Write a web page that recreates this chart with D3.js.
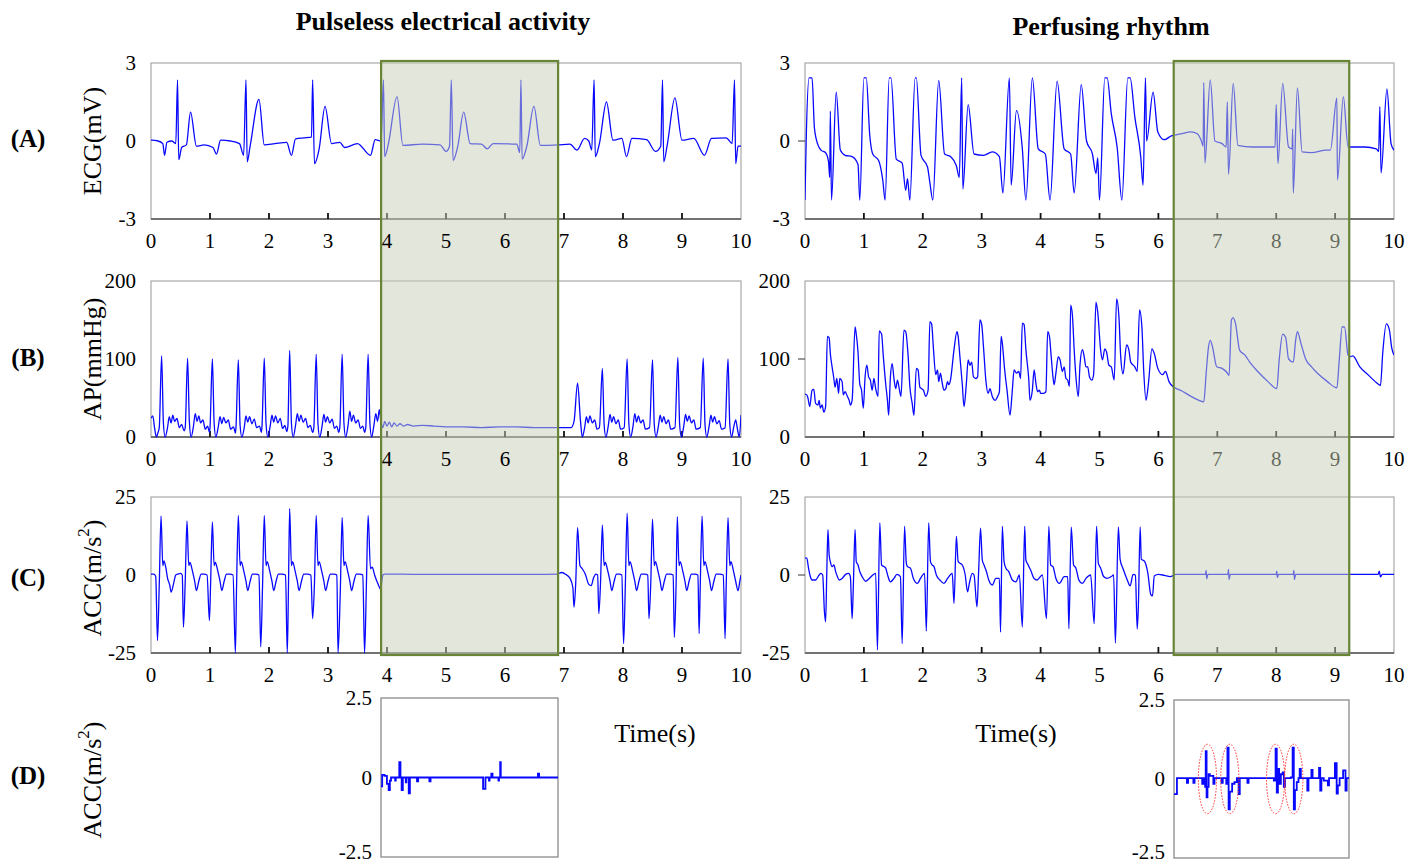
<!DOCTYPE html>
<html>
<head>
<meta charset="utf-8">
<script src="https://cdn.jsdelivr.net/npm/d3@7"></script>
<style>body{margin:0;background:#fff}</style>
</head>
<body>
<script>
// waveforms, [time (s), value]
var ecgPea = [[0.00,0.03],[0.12,0.0],[0.2,-0.1],[0.23,-0.55],[0.27,-0.05],[0.35,0.0],[0.42,-0.1],[0.45,2.35],[0.47,-0.72],[0.52,-0.25],[0.6,-0.15],[0.67,1.11],[0.77,-0.2],[0.9,-0.15],[1.05,-0.25],[1.11,-0.5],[1.18,0.03],[1.35,0.0],[1.5,-0.1],[1.57,-0.55],[1.61,2.35],[1.63,-0.8],[1.68,-0.2],[1.83,1.6],[1.92,-0.15],[2.1,-0.1],[2.3,-0.05],[2.38,-0.55],[2.45,0.08],[2.6,0.12],[2.72,0.15],[2.74,2.35],[2.77,-0.87],[2.85,-0.3],[2.95,1.33],[3.06,-0.1],[3.2,-0.05],[3.28,-0.25],[3.5,-0.1],[3.72,-0.55],[3.8,0.05],[3.9,0.0],[3.94,2.35],[3.96,-0.6],[4.02,-0.15],[4.17,1.71],[4.27,-0.17],[4.6,-0.12],[4.9,-0.15],[5.0,-0.4],[5.06,-0.2],[5.09,2.35],[5.12,-0.75],[5.2,-0.2],[5.3,1.11],[5.41,-0.1],[5.6,-0.12],[5.7,-0.3],[5.8,-0.1],[6.2,-0.12],[6.25,-0.45],[6.27,2.35],[6.29,-0.7],[6.37,-0.2],[6.49,1.33],[6.6,-0.17],[6.9,-0.15],[7.1,-0.12],[7.22,-0.35],[7.35,0.1],[7.42,0.0],[7.47,-0.35],[7.51,2.35],[7.53,-0.6],[7.6,-0.1],[7.72,1.5],[7.83,0.03],[7.98,0.1],[8.06,-0.6],[8.15,0.1],[8.4,0.05],[8.55,-0.4],[8.64,-0.2],[8.67,2.35],[8.69,-0.8],[8.75,-0.15],[8.88,1.66],[9.0,0.03],[9.2,0.1],[9.38,-0.55],[9.5,0.1],[9.75,0.12],[9.85,-0.1],[9.89,2.35],[9.91,-0.87],[9.95,-0.2],[10.0,-0.2]];

var ecgPr = [[0.00,-2.27],[0.02,0.0],[0.07,2.43],[0.12,2.43],[0.16,0.5],[0.22,-0.15],[0.27,-0.35],[0.35,-0.45],[0.40,-0.8],[0.42,-1.4],[0.43,1.15],[0.45,-2.27],[0.53,1.88],[0.6,-0.35],[0.68,-0.55],[0.8,-0.6],[0.9,-0.9],[0.93,-2.27],[1.0,2.43],[1.04,2.43],[1.1,0.2],[1.15,-0.5],[1.25,-0.75],[1.32,-1.5],[1.36,-2.27],[1.43,2.43],[1.46,2.43],[1.55,-0.7],[1.65,-0.85],[1.71,-1.9],[1.74,-1.45],[1.78,-2.27],[1.87,2.43],[1.89,2.43],[1.97,-0.55],[2.08,-1.0],[2.12,-1.6],[2.17,-2.27],[2.27,2.33],[2.37,-0.5],[2.47,-0.6],[2.57,-0.95],[2.62,-1.4],[2.66,2.43],[2.68,-1.85],[2.77,1.4],[2.87,-0.5],[3.03,-0.55],[3.18,-0.42],[3.30,-0.6],[3.36,-2.0],[3.47,2.43],[3.5,-1.7],[3.59,1.17],[3.69,-0.3],[3.75,-2.27],[3.86,2.43],[3.96,-0.3],[4.08,-0.5],[4.16,-2.27],[4.28,2.3],[4.4,-0.3],[4.51,-0.5],[4.57,-2.0],[4.69,2.17],[4.78,0.0],[4.88,-0.5],[4.94,-1.25],[4.97,-0.65],[5.0,-2.27],[5.09,2.43],[5.13,2.43],[5.2,1.05],[5.3,-0.25],[5.38,-2.27],[5.48,2.43],[5.52,2.43],[5.6,0.92],[5.7,-0.6],[5.74,-1.7],[5.78,2.43],[5.8,0.0],[5.91,1.88],[5.99,0.35],[6.1,0.05],[6.22,0.2],[6.4,0.28],[6.55,0.35],[6.66,0.28],[6.73,0.0],[6.76,-0.2],[6.77,2.25],[6.79,-0.85],[6.88,2.35],[6.96,0.0],[7.08,-0.1],[7.15,-0.23],[7.17,1.5],[7.19,-1.28],[7.27,2.22],[7.35,-0.17],[7.6,-0.23],[7.98,-0.23],[8.0,1.4],[8.03,-0.87],[8.11,2.22],[8.21,-0.23],[8.27,-0.3],[8.28,0.47],[8.29,-2.0],[8.36,2.04],[8.44,-0.42],[8.6,-0.45],[8.85,-0.35],[8.92,-0.35],[9.03,1.66],[9.04,-1.5],[9.14,1.71],[9.22,-0.23],[9.5,-0.23],[9.7,-0.3],[9.74,-0.4],[9.76,1.32],[9.78,-1.23],[9.88,2.0],[9.95,-0.1],[10.0,-0.35]];

var apPea = [[0.00,24],[0.03,27],[0.06,12],[0.09,0],[0.12,6],[0.14,12],[0.18,104],[0.21,18],[0.24,0],[0.28,12],[0.31,26],[0.34,18],[0.37,28],[0.40,20],[0.44,24],[0.48,12],[0.52,16],[0.56,8],
[0.58,12],[0.62,101],[0.65,20],[0.68,0],[0.72,14],[0.75,30],[0.78,20],[0.81,27],[0.84,18],[0.88,22],[0.92,10],[0.96,14],[0.99,6],
[1.00,12],[1.04,100],[1.07,18],[1.10,0],[1.14,13],[1.17,26],[1.20,17],[1.23,25],[1.27,18],[1.31,22],[1.35,10],[1.40,13],[1.43,5],
[1.44,12],[1.48,99],[1.51,15],[1.54,0],[1.58,12],[1.61,27],[1.64,19],[1.67,26],[1.71,17],[1.75,23],[1.79,12],[1.84,14],[1.87,6],
[1.88,12],[1.92,101],[1.95,17],[1.98,0],[2.02,14],[2.05,28],[2.08,19],[2.11,27],[2.15,18],[2.19,24],[2.23,11],[2.27,15],[2.30,7],
[2.32,14],[2.35,111],[2.38,18],[2.41,0],[2.45,15],[2.48,30],[2.51,20],[2.54,28],[2.58,19],[2.62,24],[2.66,12],[2.70,15],[2.74,6],
[2.76,12],[2.80,106],[2.83,17],[2.86,0],[2.90,14],[2.93,29],[2.96,19],[2.99,26],[3.03,18],[3.07,23],[3.11,11],[3.15,14],[3.18,6],
[3.20,12],[3.24,106],[3.27,18],[3.30,0],[3.34,15],[3.37,33],[3.40,20],[3.43,28],[3.47,18],[3.51,22],[3.55,11],[3.59,14],[3.62,6],
[3.64,12],[3.68,106],[3.71,18],[3.74,0],[3.78,16],[3.81,30],[3.84,20],[3.87,35],[3.90,18],[3.93,12],[3.96,20],[4.00,14],[4.04,19],[4.08,13],[4.12,18],[4.17,14],[4.22,17],[4.28,14],[4.35,16],[4.45,14],[4.6,15],[4.8,14],[5.0,13],[5.3,13],[5.6,12],[5.9,13],[6.2,13],[6.5,12],[6.8,12],[7.0,12],[7.12,12],[7.17,20],[7.23,69],[7.28,20],[7.31,0],
[7.35,12],[7.38,26],[7.41,18],[7.44,27],[7.48,18],[7.52,22],[7.56,10],[7.60,12],[7.65,88],[7.68,16],[7.71,0],[7.75,14],[7.78,29],[7.81,19],[7.84,26],[7.88,17],[7.92,22],[7.96,10],
[8.02,12],[8.07,100],[8.10,16],[8.13,0],[8.17,14],[8.20,30],[8.23,19],[8.26,27],[8.30,18],[8.34,22],[8.38,10],
[8.45,12],[8.50,99],[8.53,16],[8.56,0],[8.60,14],[8.63,28],[8.66,19],[8.69,26],[8.73,17],[8.77,22],[8.81,10],
[8.88,12],[8.93,102],[8.96,16],[8.99,0],[9.03,14],[9.06,29],[9.09,20],[9.12,27],[9.16,18],[9.20,22],[9.24,10],
[9.31,12],[9.36,101],[9.39,16],[9.42,0],[9.46,14],[9.49,28],[9.52,19],[9.55,26],[9.59,17],[9.63,21],[9.67,10],
[9.73,12],[9.78,100],[9.81,16],[9.84,0],[9.88,14],[9.91,22],[9.94,10],[9.97,0],[10.0,28]];

var apPr = [[0.0,55],[0.03,54],[0.05,50],[0.08,39],[0.12,60],[0.15,61],[0.18,43],[0.22,41],[0.24,47],[0.26,37],[0.29,41],[0.32,32],[0.35,39],[0.38,129],[0.41,127],[0.43,107],[0.46,90],[0.49,75],[0.51,64],[0.54,75],[0.57,56],[0.59,75],[0.63,71],[0.65,54],[0.68,58],[0.72,52],[0.75,47],[0.77,41],[0.80,47],[0.85,141],[0.87,132],[0.90,109],[0.93,68],[0.96,60],[0.99,37],[1.02,77],[1.05,92],[1.08,77],[1.11,73],[1.14,60],[1.17,75],[1.20,62],[1.24,52],[1.26,136],[1.30,132],[1.33,103],[1.37,68],[1.40,47],[1.42,28],[1.45,77],[1.48,94],[1.51,75],[1.54,62],[1.57,73],[1.60,62],[1.63,52],[1.68,137],[1.71,135],[1.75,105],[1.78,65],[1.82,43],[1.85,28],[1.89,88],[1.92,86],[1.95,64],[1.98,62],[2.01,60],[2.05,52],[2.09,60],[2.12,148],[2.15,145],[2.18,114],[2.22,80],[2.25,86],[2.27,71],[2.30,82],[2.33,69],[2.36,60],[2.39,62],[2.42,71],[2.44,67],[2.47,73],[2.53,112],[2.58,135],[2.60,129],[2.63,103],[2.67,68],[2.70,39],[2.74,69],[2.77,99],[2.80,92],[2.83,96],[2.86,77],[2.90,75],[2.93,77],[2.97,150],[3.00,144],[3.03,116],[3.07,73],[3.11,56],[3.14,62],[3.18,52],[3.23,47],[3.27,52],[3.30,58],[3.33,129],[3.35,120],[3.39,86],[3.43,60],[3.48,28],[3.52,60],[3.55,86],[3.59,82],[3.63,84],[3.66,75],[3.69,146],[3.72,144],[3.75,112],[3.80,73],[3.82,47],[3.86,60],[3.89,86],[3.92,69],[3.95,58],[3.98,60],[4.00,56],[4.05,56],[4.09,58],[4.12,135],[4.15,129],[4.18,103],[4.21,77],[4.23,67],[4.26,82],[4.30,103],[4.33,99],[4.37,84],[4.40,90],[4.43,75],[4.46,73],[4.49,65],[4.51,169],[4.54,156],[4.57,112],[4.60,77],[4.64,52],[4.67,94],[4.71,112],[4.74,103],[4.77,90],[4.80,90],[4.83,77],[4.87,73],[4.90,80],[4.94,173],[4.97,160],[5.02,111],[5.05,99],[5.09,113],[5.12,109],[5.16,92],[5.20,90],[5.25,73],[5.29,177],[5.33,154],[5.36,103],[5.40,81],[5.46,118],[5.50,111],[5.53,96],[5.60,90],[5.64,84],[5.68,163],[5.72,141],[5.75,86],[5.79,47],[5.83,68],[5.89,113],[5.93,107],[5.99,88],[6.07,80],[6.12,84],[6.18,71],[6.26,64],[6.40,59],[6.53,53],[6.69,47],[6.77,45],[6.81,81],[6.85,115],[6.88,124],[6.92,115],[6.99,90],[7.08,88],[7.16,83],[7.20,79],[7.24,150],[7.27,153],[7.31,145],[7.38,111],[7.47,105],[7.55,96],[7.70,83],[7.86,71],[8.01,62],[8.05,98],[8.11,132],[8.16,128],[8.21,100],[8.29,96],[8.33,124],[8.36,135],[8.42,120],[8.50,100],[8.60,90],[8.71,81],[8.87,71],[9.03,63],[9.07,98],[9.12,141],[9.16,141],[9.22,105],[9.26,103],[9.30,104],[9.42,90],[9.57,79],[9.73,68],[9.77,66],[9.81,109],[9.87,145],[9.92,138],[9.96,115],[10.0,105]];

var accPea = [[0.0,0.3],[0.05,0.3],[0.08,-0.5],[0.11,-21],[0.14,-3],[0.17,18.9],[0.20,3],[0.22,4.5],[0.25,2.5],[0.28,-1],[0.32,-3.4],[0.34,-5.5],[0.38,-3],[0.42,0],[0.46,0.3],[0.50,0.5],[0.53,0],
[0.55,-16.7],[0.58,-2],[0.61,17.3],[0.64,3],[0.66,4],[0.70,1.5],[0.74,-2],[0.77,-5],[0.81,-2],[0.85,0.3],[0.90,0.3],[0.95,0],
[0.99,-14.6],[1.01,-3],[1.04,17],[1.07,3],[1.09,4],[1.13,1.5],[1.17,-2],[1.20,-5],[1.24,-2],[1.28,0.3],[1.34,0.3],[1.39,0],
[1.43,-25],[1.45,-4],[1.48,19.1],[1.51,3],[1.53,4.3],[1.57,1.5],[1.61,-2],[1.64,-5],[1.68,-2],[1.72,0.3],[1.78,0.3],[1.83,0],
[1.86,-23],[1.89,-4],[1.92,19.1],[1.95,3],[1.97,4.3],[2.01,1.5],[2.05,-2],[2.08,-5],[2.12,-2],[2.16,0.3],[2.22,0.3],[2.28,0],
[2.31,-25],[2.33,-4],[2.35,21.3],[2.38,3],[2.40,4.3],[2.44,1.5],[2.48,-2],[2.51,-5],[2.55,-2],[2.59,0.3],[2.65,0.3],[2.71,0],
[2.74,-14],[2.77,-3],[2.80,19.1],[2.83,3],[2.85,4.3],[2.89,1.5],[2.93,-2],[2.96,-5],[3.00,-2],[3.04,0.3],[3.10,0.3],[3.15,0],
[3.17,-25],[3.21,-4],[3.24,18.4],[3.27,3],[3.29,4.3],[3.33,1.5],[3.37,-2],[3.40,-5],[3.44,-2],[3.48,0.3],[3.54,0.3],[3.59,0],
[3.62,-25],[3.65,-4],[3.68,19.1],[3.72,2],[3.75,2.5],[3.79,0],[3.85,-3],[3.89,-4.5],[3.93,0],[3.96,0.3],[4.5,0.2],[5.0,0.2],[5.5,0.2],[6.0,0.2],[6.5,0.2],[6.88,0.3],[6.96,0.8],[7.02,0.3],[7.10,-1],[7.15,-4],[7.17,-10.3],[7.20,-2],[7.23,15.2],[7.27,3],[7.31,2],[7.36,0.3],[7.42,-3],[7.46,-3.4],[7.50,-1],[7.54,0.3],[7.57,0],
[7.59,-12.4],[7.62,-2],[7.65,16],[7.68,3],[7.70,4],[7.74,1.5],[7.78,-2],[7.81,-5],[7.85,-2],[7.89,0.3],[7.94,0.3],[7.98,0],
[8.01,-22],[8.04,-3],[8.07,19.8],[8.10,3],[8.12,4.3],[8.16,1.5],[8.20,-2],[8.23,-5],[8.27,-2],[8.31,0.3],[8.37,0.3],[8.42,0],
[8.44,-14],[8.47,-3],[8.50,17.9],[8.53,3],[8.55,4.3],[8.59,1.5],[8.63,-2],[8.66,-5],[8.70,-2],[8.74,0.3],[8.80,0.3],[8.85,0],
[8.87,-20],[8.90,-3],[8.92,18.7],[8.95,3],[8.97,4.3],[9.01,1.5],[9.05,-2],[9.08,-5],[9.12,-2],[9.16,0.3],[9.22,0.3],[9.27,0],
[9.29,-18.8],[9.31,-3],[9.34,18.9],[9.37,3],[9.39,4.3],[9.43,1.5],[9.47,-2],[9.50,-5],[9.54,-2],[9.58,0.3],[9.64,0.3],[9.70,0],
[9.73,-20.4],[9.75,-3],[9.78,18.4],[9.81,3],[9.83,4.3],[9.87,1.5],[9.91,-2],[9.95,-5],[9.98,-2],[10.0,0]];

var accPr = [[0.0,5.5],[0.03,5.4],[0.06,2.2],[0.09,-0.5],[0.12,-1.6],[0.18,-1.6],[0.24,0],[0.27,0.5],[0.30,0],[0.33,-11.8],[0.35,-15],[0.37,0.9],[0.39,14.5],[0.41,6.5],[0.43,4.3],[0.46,2.7],[0.49,3.2],[0.52,1.1],[0.55,-0.5],[0.58,-1.6],[0.63,-1.1],[0.69,0.2],[0.74,0.5],[0.77,-0.5],[0.80,-14],[0.82,-4],[0.85,14.5],[0.87,4.3],[0.90,3.2],[0.93,1.1],[0.97,-0.5],[1.03,-2],[1.09,-1.1],[1.14,-0.2],[1.20,0.5],[1.23,-24],[1.27,16.7],[1.30,3.2],[1.34,2.7],[1.37,2.2],[1.41,-0.5],[1.45,-2.2],[1.51,-1.1],[1.56,0.2],[1.62,-0.5],[1.65,-22],[1.69,15.6],[1.72,3.8],[1.74,2.7],[1.79,2.2],[1.84,-1.1],[1.91,-2.7],[1.96,-1.1],[2.03,0.5],[2.06,-18],[2.10,16.7],[2.13,4.3],[2.16,3.2],[2.19,2.7],[2.23,0],[2.29,-1.6],[2.36,-2.7],[2.42,-1.1],[2.50,0.5],[2.53,-9.1],[2.57,12.4],[2.60,4.3],[2.63,3.8],[2.67,3.2],[2.72,0],[2.76,-5.4],[2.79,-2.7],[2.84,0.5],[2.87,0],[2.92,-10.2],[2.95,2.2],[2.98,15],[3.01,4.8],[3.04,3.2],[3.08,1.1],[3.12,-1.6],[3.18,-3.2],[3.24,-1.1],[3.30,-1.1],[3.32,-18.3],[3.35,15.6],[3.38,4.3],[3.41,2.2],[3.46,1.1],[3.52,-1.6],[3.58,-2.2],[3.64,0],[3.69,-16.7],[3.73,15.6],[3.75,4.8],[3.79,3.2],[3.83,1.6],[3.89,-1.1],[3.94,-1.6],[4.03,0],[4.10,-14],[4.14,15.6],[4.17,3.2],[4.21,2.7],[4.26,-1.1],[4.32,-2.7],[4.40,-0.5],[4.46,-0.5],[4.48,-17.2],[4.52,15.3],[4.56,3.2],[4.60,2.2],[4.65,-1.6],[4.71,-2.7],[4.77,-1.1],[4.85,0],[4.91,-15.6],[4.95,15.6],[4.98,3.8],[5.02,2.2],[5.07,-0.5],[5.13,-1.1],[5.2,-0.5],[5.24,0],[5.27,-21.8],[5.32,15.4],[5.35,5],[5.40,2],[5.47,-1.5],[5.52,-3.5],[5.57,0.2],[5.61,0],[5.64,-17.3],[5.66,-10],[5.69,15.4],[5.71,5],[5.76,4.5],[5.82,0.7],[5.87,-6.2],[5.90,-6.7],[5.93,-0.3],[6.0,0.2],[6.1,-0.1],[6.2,-0.5],[6.3,0.2],[6.5,0.2],[6.8,0.2],[6.81,1.5],[6.82,-1.2],[6.84,0.2],[7.18,0.2],[7.19,1.8],[7.2,-1.5],[7.22,0.2],[8.0,0.2],[8.01,1.2],[8.02,-0.8],[8.04,0.2],[8.29,0.2],[8.30,1.5],[8.31,-1.5],[8.33,0.2],[9.0,0.2],[9.73,0.2],[9.75,1.2],[9.77,-0.6],[9.80,0.2],[10.0,0.2]];

// zoomed accelerometer traces inside the shaded windows (sampled, step-wise)
var dPea = [[3.9,-0.28],[3.92,0.08],[3.96,0.05],[4.0,-0.2],[4.03,-0.4],[4.05,-0.1],[4.07,0],[4.14,-0.1],[4.15,0],[4.21,0.48],[4.23,0],[4.25,-0.4],[4.27,0],[4.32,-0.15],[4.33,0],[4.37,-0.5],[4.39,0],[4.51,-0.12],[4.53,0],[4.72,-0.12],[4.74,0],[5.63,-0.36],[5.67,0],[5.73,-0.1],[5.74,0],[5.77,0.12],[5.79,0],[5.89,-0.1],[5.9,0],[5.92,0.48],[5.93,0],[6.56,0.12],[6.58,0],[6.9,0]];
var dPr = [[6.26,-0.48],[6.31,0.03],[6.48,-0.12],[6.5,0.03],[6.59,-0.12],[6.61,0.03],[6.74,-0.15],[6.76,0.03],[6.79,-0.25],[6.8,0.88],[6.815,-0.58],[6.83,-0.25],[6.85,0.15],[6.87,0.1],[6.9,0.1],[6.93,-0.15],[6.95,0.03],[7.07,-0.12],[7.09,0.03],[7.15,-0.15],[7.17,0.99],[7.19,-0.96],[7.21,-0.4],[7.25,-0.15],[7.29,-0.1],[7.33,0.03],[7.36,-0.48],[7.38,0.03],[7.51,-0.12],[7.53,0.03],[7.96,-0.05],[7.99,0.96],[8.01,-0.43],[8.03,0.32],[8.05,-0.15],[8.08,0.15],[8.11,0.21],[8.13,-0.25],[8.15,0.03],[8.25,0.05],[8.28,0.99],[8.30,-0.96],[8.32,-0.35],[8.35,-0.1],[8.38,0.03],[8.40,0.32],[8.42,0.03],[8.53,-0.37],[8.55,0.03],[8.60,0.29],[8.62,0.03],[8.73,0.35],[8.75,-0.37],[8.77,0.03],[8.81,-0.05],[8.88,-0.2],[8.9,0.03],[9.0,0.5],[9.03,-0.46],[9.05,-0.2],[9.08,0.03],[9.14,0.27],[9.18,-0.37],[9.2,0.03],[9.24,0.03]];
var circleT = [6.83, 7.21, 7.99, 8.30];

var timeTicks = [0,1,2,3,4,5,6,7,8,9,10];

var W = 1419, H = 865;
var serif = '"Liberation Serif","Times New Roman",serif';
var blue = '#0808ff';

var svg = d3.select('body').append('svg')
	.attr('width', W).attr('height', H)
	.style('font-family', serif);

var cols = [
	{x0: 151, x1: 741, hl: [3.9, 6.9], labelsOnTop: true},
	{x0: 805, x1: 1394, hl: [6.26, 9.24], labelsOnTop: false}
];
var rows = [
	{y0: 63, y1: 219, dom: [-3, 3], ticks: [-3, 0, 3], mid: 0},
	{y0: 281, y1: 437, dom: [0, 200], ticks: [0, 100, 200], mid: 100},
	{y0: 497, y1: 653, dom: [-25, 25], ticks: [-25, 0, 25], mid: 0}
];
var series = [[ecgPea, apPea, accPea], [ecgPr, apPr, accPr]];

var defs = svg.append('defs');
var clipId = 0;
function clip(x0, y0, w, h) {
	var id = 'c' + (clipId++);
	defs.append('clipPath').attr('id', id).append('rect')
		.attr('x', x0).attr('y', y0).attr('width', w).attr('height', h);
	return 'url(#' + id + ')';
}

function xLabels(g, x, r) {
	g.selectAll('.xl').data(timeTicks).enter().append('text')
		.attr('x', function(d){ return x(d); })
		.attr('y', r.y1 + 22)
		.attr('text-anchor', 'middle')
		.attr('dominant-baseline', 'central')
		.attr('font-size', 21)
		.text(function(d){ return d; });
}

var later = svg.append('g');
cols.forEach(function(c, ci) {
	rows.forEach(function(r, ri) {
		var x = d3.scaleLinear().domain([0, 10]).range([c.x0, c.x1]);
		var y = d3.scaleLinear().domain(r.dom).range([r.y1, r.y0]);
		var g = svg.append('g');
		g.append('rect').attr('x', c.x0).attr('y', r.y0)
			.attr('width', c.x1 - c.x0).attr('height', r.y1 - r.y0)
			.attr('fill', 'none').attr('stroke', '#a8a8a8').attr('stroke-width', 1.2);
		g.append('line').attr('x1', c.x0).attr('x2', c.x1).attr('y1', r.y1).attr('y2', r.y1)
			.attr('stroke', '#555').attr('stroke-width', 1.3);
		g.selectAll('.tk').data(timeTicks.slice(1, 10)).enter().append('line')
			.attr('x1', function(d){ return x(d); }).attr('x2', function(d){ return x(d); })
			.attr('y1', r.y1 - 6).attr('y2', r.y1)
			.attr('stroke', '#111').attr('stroke-width', 1.8);
		if (ci === 1) {
			g.append('line').attr('x1', c.x0 - 7).attr('x2', c.x0).attr('y1', y(r.mid)).attr('y2', y(r.mid))
				.attr('stroke', '#333').attr('stroke-width', 1);
		}
		g.selectAll('.yl').data(r.ticks).enter().append('text')
			.attr('x', c.x0 - 15)
			.attr('y', function(d){ return y(d); })
			.attr('text-anchor', 'end')
			.attr('dominant-baseline', 'central')
			.attr('font-size', 21)
			.text(function(d){ return d; });
		var line = d3.line().curve(d3.curveMonotoneX)
			.x(function(d){ return x(d[0]); }).y(function(d){ return y(d[1]); });
		g.append('path').datum(series[ci][ri])
			.attr('clip-path', clip(c.x0, r.y0, c.x1 - c.x0, r.y1 - r.y0 + 1))
			.attr('d', line)
			.attr('fill', 'none').attr('stroke', blue).attr('stroke-width', 1.3)
			.attr('stroke-linejoin', 'round');
		xLabels(c.labelsOnTop ? later : g, x, r);
	});
});

// shaded windows
cols.forEach(function(c) {
	var x = d3.scaleLinear().domain([0, 10]).range([c.x0, c.x1]);
	svg.append('rect')
		.attr('x', x(c.hl[0])).attr('y', 61)
		.attr('width', x(c.hl[1]) - x(c.hl[0])).attr('height', 594)
		.attr('fill', 'rgb(200,207,184)').attr('fill-opacity', 0.5)
		.attr('stroke', '#688536').attr('stroke-width', 2.2);
});
svg.node().appendChild(later.node());

// zoomed panels (D)
var dPanels = [
	{x0: 381, x1: 558, y0: 698, y1: 857, dom: [3.9, 6.9], data: dPea, timeX: 655},
	{x0: 1174, x1: 1349, y0: 700, y1: 858, dom: [6.26, 9.24], data: dPr, timeX: 1016}
];
dPanels.forEach(function(p, i) {
	var x = d3.scaleLinear().domain(p.dom).range([p.x0, p.x1]);
	var y = d3.scaleLinear().domain([-2.5, 2.5]).range([p.y1, p.y0]);
	svg.append('rect').attr('x', p.x0).attr('y', p.y0)
		.attr('width', p.x1 - p.x0).attr('height', p.y1 - p.y0)
		.attr('fill', 'none').attr('stroke', '#8a8a8a').attr('stroke-width', 1.3);
	svg.selectAll('.dl' + i).data([-2.5, 0, 2.5]).enter().append('text')
		.attr('x', p.x0 - 9)
		.attr('y', function(d){ return Math.min(y(d), 852); })
		.attr('text-anchor', 'end')
		.attr('dominant-baseline', 'central')
		.attr('font-size', 21)
		.text(function(d){ return d; });
	var line = d3.line().curve(d3.curveStepAfter)
		.x(function(d){ return x(d[0]); }).y(function(d){ return y(d[1]); });
	svg.append('path').datum(p.data)
		.attr('d', line)
		.attr('fill', 'none').attr('stroke', blue).attr('stroke-width', 1.8);
	svg.append('text').attr('x', p.timeX).attr('y', 733)
		.attr('text-anchor', 'middle').attr('dominant-baseline', 'central')
		.attr('font-size', 26).text('Time(s)');
	if (i === 1) {
		svg.selectAll('.ell').data(circleT).enter().append('ellipse')
			.attr('cx', function(d){ return x(d); })
			.attr('cy', y(0))
			.attr('rx', x(6.26 + 0.155) - x(6.26))
			.attr('ry', y(0) - y(1.1))
			.attr('fill', 'none').attr('stroke', '#ff3030')
			.attr('stroke-width', 1).attr('stroke-dasharray', '1.5,1.5');
	}
});

// titles and row labels
svg.append('text').attr('x', 443).attr('y', 21)
	.attr('text-anchor', 'middle').attr('dominant-baseline', 'central')
	.attr('font-size', 26).attr('font-weight', 'bold')
	.text('Pulseless electrical activity');
svg.append('text').attr('x', 1111).attr('y', 26)
	.attr('text-anchor', 'middle').attr('dominant-baseline', 'central')
	.attr('font-size', 26).attr('font-weight', 'bold')
	.text('Perfusing rhythm');

var tags = [['(A)', 138], ['(B)', 357], ['(C)', 577], ['(D)', 775]];
tags.forEach(function(t) {
	svg.append('text').attr('x', 28).attr('y', t[1])
		.attr('text-anchor', 'middle').attr('dominant-baseline', 'central')
		.attr('font-size', 25).attr('font-weight', 'bold').text(t[0]);
});

var yTitles = [['ECG(mV)', 141, false], ['AP(mmHg)', 359, false], ['ACC(m/s', 578, true], ['ACC(m/s', 780, true]];
yTitles.forEach(function(t) {
	var txt = svg.append('text')
		.attr('transform', 'translate(92,' + t[1] + ') rotate(-90)')
		.attr('text-anchor', 'middle').attr('dominant-baseline', 'central')
		.attr('font-size', 26).text(t[0]);
	if (t[2]) {
		txt.append('tspan').attr('dy', -9).attr('font-size', 17).text('2');
		txt.append('tspan').attr('dy', 9).text(')');
	}
});
</script>
</body>
</html>
